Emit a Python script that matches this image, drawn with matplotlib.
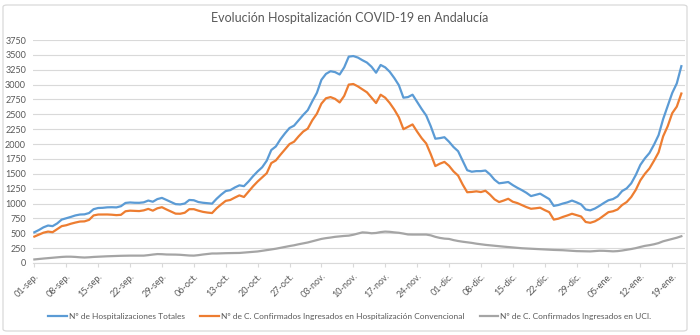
import matplotlib
matplotlib.use("Agg")
import matplotlib.pyplot as plt
from matplotlib.patches import FancyBboxPatch

plt.rcParams['font.family'] = ['Lato', 'DejaVu Sans']

title = "Evolución Hospitalización COVID-19 en Andalucía"
series_names = [
    "Nº de Hospitalizaciones Totales",
    "Nº de C. Confirmados Ingresados en Hospitalización Convencional",
    "Nº de C. Confirmados Ingresados en UCI.",
]

# one value per day, 01-sep to 21-ene
totales = [
    517, 555, 600, 630, 620, 665, 730, 752, 775, 800,
    815, 818, 840, 905, 925, 928, 936, 938, 935, 955,
    1010, 1018, 1013, 1012, 1020, 1050, 1030, 1075, 1095, 1060,
    1025, 990, 985, 1000, 1060, 1055, 1025, 1013, 1005, 998,
    1080, 1150, 1210, 1225, 1270, 1306, 1292, 1370, 1460, 1540,
    1610, 1720, 1900, 1960, 2080, 2180, 2270, 2310, 2400, 2490,
    2570, 2720, 2860, 3080, 3180, 3225, 3210, 3170, 3290, 3470,
    3480, 3455, 3410, 3370, 3300, 3200, 3330, 3290, 3215, 3110,
    2990, 2780, 2790, 2830, 2710, 2590, 2480, 2300, 2090, 2100,
    2115, 2040, 1950, 1880, 1720, 1560, 1535, 1545, 1545, 1555,
    1490, 1400, 1340, 1350, 1362, 1310, 1265, 1225, 1180, 1125,
    1145, 1166, 1120, 1075, 960, 975, 1000, 1020, 1050, 1020,
    985, 900, 885, 915, 960, 1010, 1055, 1075, 1120, 1210,
    1255, 1340, 1480, 1650, 1760, 1850, 1990, 2150, 2420, 2640,
    2860, 3020, 3310,
]

convencional = [
    444, 478, 510, 528, 518, 570, 620, 635, 660, 680,
    697, 700, 725, 800, 815, 815, 816, 812, 805, 810,
    870, 880, 876, 873, 885, 910, 880, 920, 938, 900,
    865, 830, 828, 845, 905, 905, 880, 860, 848, 840,
    920, 985, 1045, 1060, 1100, 1137, 1110, 1200, 1290, 1370,
    1440, 1510, 1680, 1725, 1820, 1910, 2000, 2040, 2130, 2210,
    2260, 2400, 2510, 2680, 2770, 2790, 2760, 2700, 2810, 3000,
    3010, 2970, 2920, 2870, 2780, 2690, 2830, 2780, 2690, 2580,
    2450, 2250, 2290, 2330, 2210, 2100, 2010, 1830, 1630, 1670,
    1700, 1635, 1540, 1470, 1320, 1190, 1195, 1205, 1193, 1215,
    1150, 1070, 1025, 1050, 1080, 1030, 1008, 975, 940, 912,
    920, 930, 890, 855, 730, 745, 775, 800, 828, 805,
    782, 690, 676, 700, 743, 800, 855, 870, 900, 975,
    1025, 1110, 1230, 1390, 1500, 1590, 1720, 1860, 2130, 2300,
    2520, 2630, 2850,
]

uci = [
    60, 68, 75, 82, 88, 95, 102, 106, 106, 102,
    96, 92, 96, 102, 106, 110, 113, 116, 119, 121,
    123, 124, 124, 123, 124, 132, 142, 150, 148, 143,
    142, 141, 138, 132, 126, 124, 132, 143, 152, 160,
    160, 163, 165, 167, 168, 169, 175, 182, 188, 194,
    205, 215, 228, 240, 255, 270, 285, 298, 315, 330,
    345, 365, 385, 405, 418, 428, 440, 448, 455, 460,
    475, 495, 515, 510, 500, 505, 520, 528, 524, 515,
    508, 495, 480, 478, 478, 478, 478, 465, 440, 422,
    410, 405, 385, 370, 358, 348, 338, 325, 315, 305,
    298, 290, 282, 275, 268, 260, 253, 248, 244, 240,
    236, 232, 228, 224, 220, 218, 215, 210, 205, 200,
    198, 196, 195, 200, 206, 205, 200, 196, 200, 210,
    222, 235, 250, 270, 288, 300, 315, 335, 365, 385,
    405, 425, 450,
]

tick_labels = [
    "01-sep.", "08-sep.", "15-sep.", "22-sep.", "29-sep.",
    "06-oct.", "13-oct.", "20-oct.", "27-oct.",
    "03-nov.", "10-nov.", "17-nov.", "24-nov.",
    "01-dic.", "08-dic.", "15-dic.", "22-dic.", "29-dic.",
    "05-ene.", "12-ene.", "19-ene.",
]
y_ticks = list(range(0, 3751, 250))

colors = ["#5b9bd5", "#ed7d31", "#a5a5a5"]
text_col = "#595959"
grid_col = "#d9d9d9"

fig = plt.figure(figsize=(7.0, 3.35), dpi=100)
ax = fig.add_axes([33 / 700, 1 - 263 / 335, 652 / 700, 223 / 335])

days = list(range(len(totales)))
for vals, col, name in zip([totales, convencional, uci], colors, series_names):
    ax.plot(days, vals, color=col, lw=1.6, label=name, solid_joinstyle='round')

ax.set_ylim(0, 3750)
ax.set_xlim(-0.3, 142.8)
ax.set_yticks(y_ticks)
ax.set_yticklabels([str(v) for v in y_ticks], fontsize=6.5, color=text_col)
ax.set_xticks(list(range(0, 7 * len(tick_labels), 7)))
ax.set_xticklabels(tick_labels, rotation=45, ha='right', rotation_mode='anchor',
                   fontsize=6.5, color=text_col)
ax.tick_params(axis='y', length=0, pad=5)
ax.tick_params(axis='x', length=3, color=grid_col, pad=3)
ax.grid(axis='y', color=grid_col, lw=0.8)
ax.set_axisbelow(True)
for side in ['top', 'right', 'left']:
    ax.spines[side].set_visible(False)
ax.spines['bottom'].set_color(grid_col)
ax.spines['bottom'].set_linewidth(0.8)

fig.text(0.5, 1 - 18 / 335, title, ha='center', va='center', fontsize=9, color=text_col)

leg = fig.legend(loc='center', bbox_to_anchor=(0.5, 1 - 316 / 335), ncol=3, frameon=False,
                 fontsize=6, handlelength=2.2, columnspacing=1.8, handletextpad=0.3)
for t in leg.get_texts():
    t.set_color(text_col)

frame = FancyBboxPatch((3 / 700, 4 / 335), 684 / 700, 326 / 335,
                       boxstyle="round,pad=0,rounding_size=0.006",
                       transform=fig.transFigure, fill=False, ec=grid_col, lw=0.9)
fig.patches.append(frame)

fig.savefig("out.png", dpi=100, facecolor="white")
